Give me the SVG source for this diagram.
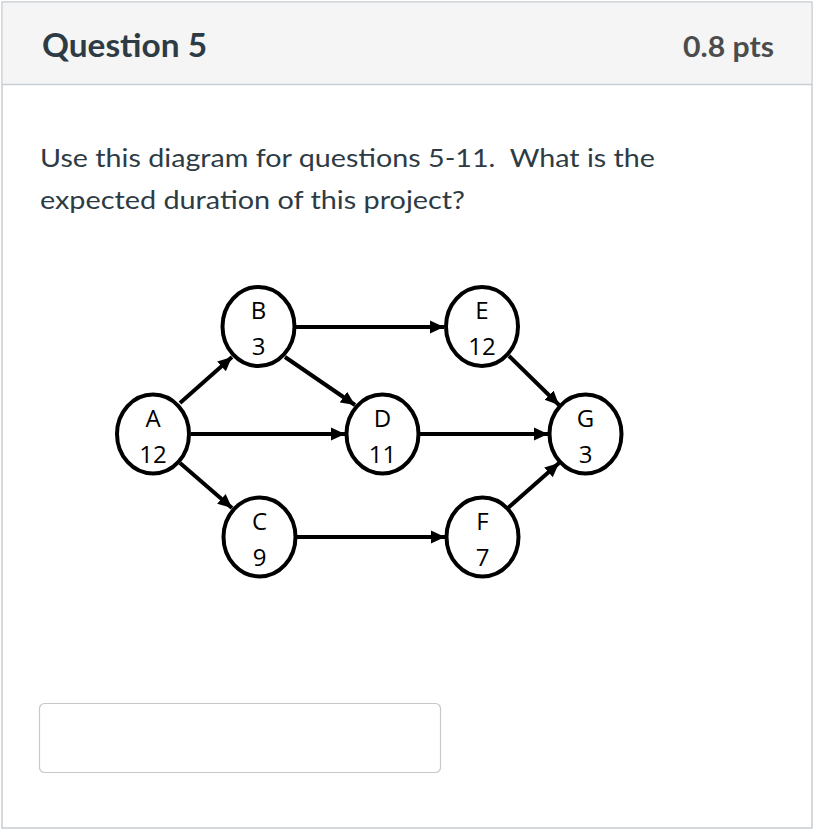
<svg xmlns="http://www.w3.org/2000/svg" width="818" height="837" viewBox="0 0 818 837">
<style>
.node ellipse{fill:#fff;stroke:#000;stroke-width:4}
.node text{font-family:"Open Sans","Liberation Sans",sans-serif;font-size:24px;fill:#000;text-anchor:middle}
.edge{stroke:#000;stroke-width:4;fill:none;marker-end:url(#ah)}
.body{font-family:Lato,"Liberation Sans",sans-serif;font-size:25px;fill:#2d3b45;white-space:pre}
</style>
<defs>
<marker id="ah" markerUnits="userSpaceOnUse" markerWidth="15" markerHeight="15" viewBox="0 0 15 15" refX="14" refY="7.5" orient="auto">
<path d="M0,1 L14,7.5 L0,14 Z" fill="#000"/>
</marker>
</defs>
<rect x="0" y="0" width="818" height="837" fill="#fff"/>
<rect x="2" y="2" width="810" height="826" fill="#fff" stroke="#c7cdd1" stroke-width="1.5"/>
<rect x="2.75" y="2.75" width="808.5" height="81.5" fill="#f5f5f5"/>
<line x1="2" y1="84.5" x2="812" y2="84.5" stroke="#c7cdd1" stroke-width="1.5"/>
<text x="42" y="57" font-family="Lato,'Liberation Sans',sans-serif" font-size="33px" font-weight="bold" fill="#2d3b45" textLength="165" lengthAdjust="spacingAndGlyphs">Question 5</text>
<text x="683" y="57" font-family="Lato,'Liberation Sans',sans-serif" font-size="28px" font-weight="bold" fill="#4c4c4c" textLength="91" lengthAdjust="spacingAndGlyphs">0.8 pts</text>
<text class="body" x="40" y="167" xml:space="preserve" textLength="615" lengthAdjust="spacingAndGlyphs">Use this diagram for questions 5-11.  What is the</text>
<text class="body" x="40" y="209" textLength="425" lengthAdjust="spacingAndGlyphs">expected duration of this project?</text>
<g id="connectors">
<line class="edge" x1="180" y1="403" x2="232" y2="357"/>
<line class="edge" x1="296" y1="327" x2="444" y2="327"/>
<line class="edge" x1="285" y1="357" x2="355" y2="405"/>
<line class="edge" x1="191" y1="434" x2="345" y2="434"/>
<line class="edge" x1="180" y1="463" x2="232" y2="508"/>
<line class="edge" x1="420" y1="434" x2="548" y2="434"/>
<line class="edge" x1="297" y1="537" x2="445" y2="537"/>
<line class="edge" x1="509" y1="356" x2="559" y2="405"/>
<line class="edge" x1="508" y1="508" x2="559" y2="463"/>
</g>
<g id="A" class="node"><ellipse cx="153" cy="434" rx="36" ry="39.5"/><text x="153" y="426.5">A</text><text x="153" y="462.5">12</text></g>
<g id="B" class="node"><ellipse cx="258.5" cy="326.5" rx="36" ry="39.5"/><text x="258.5" y="319">B</text><text x="258.5" y="355">3</text></g>
<g id="E" class="node"><ellipse cx="482" cy="326.5" rx="36" ry="39.5"/><text x="482" y="319">E</text><text x="482" y="355">12</text></g>
<g id="D" class="node"><ellipse cx="382.5" cy="434" rx="36" ry="39.5"/><text x="382.5" y="426.5">D</text><text x="382.5" y="462.5">11</text></g>
<g id="G" class="node"><ellipse cx="585.5" cy="434" rx="36" ry="39.5"/><text x="585.5" y="426.5">G</text><text x="585.5" y="462.5">3</text></g>
<g id="C" class="node"><ellipse cx="259.5" cy="537" rx="36" ry="39.5"/><text x="259.5" y="529.5">C</text><text x="259.5" y="565.5">9</text></g>
<g id="F" class="node"><ellipse cx="482.5" cy="537" rx="36" ry="39.5"/><text x="482.5" y="529.5">F</text><text x="482.5" y="565.5">7</text></g>
<rect x="39.5" y="703.5" width="401" height="69" rx="5" ry="5" fill="#fff" stroke="#c8c8c8" stroke-width="1.2"/>
</svg>
